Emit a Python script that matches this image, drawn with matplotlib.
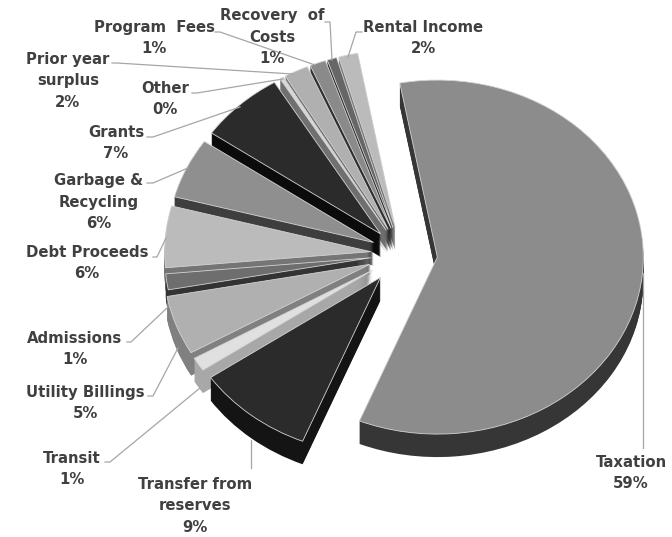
import matplotlib
matplotlib.use('Agg')
from matplotlib import pyplot as plt

names = ['Taxation', 'Transfer from\nreserves', 'Transit', 'Utility Billings', 'Admissions',
         'Debt Proceeds', 'Garbage &\nRecycling', 'Grants', 'Other', 'Prior year\nsurplus',
         'Program  Fees', 'Recovery  of\nCosts', 'Rental Income']
values = [59.0, 9.25, 1.25, 5.4, 1.45, 5.6, 5.5, 6.7, 0.3, 1.9, 1.25, 0.75, 1.5]
pct_text = ['59%', '9%', '1%', '5%', '1%', '6%', '6%', '7%', '0%', '2%', '1%', '1%', '2%']

top_cols = ['#8c8c8c', '#2b2b2b', '#e0e0e0', '#b0b0b0', '#6e6e6e', '#bbbbbb', '#8f8f8f',
            '#2b2b2b', '#d8d8d8', '#b0b0b0', '#8a8a8a', '#666666', '#bbbbbb']
side_cols = ['#363636', '#141414', '#a8a8a8', '#808080', '#333333', '#757575', '#3e3e3e',
             '#0b0b0b', '#707070', '#6e6e6e', '#303030', '#2a2a2a', '#7a7a7a']

# label centres in pixels
label_x = [631, 195, 72, 85, 75, 87, 99, 116, 165, 68, 154, 272, 423]
label_y = [473, 506, 469, 403, 349, 263, 202, 143, 99, 81, 38, 37, 38]

# leader lines, pixels
leaders = [
    [(643, 273), (643, 448)],
    [(251, 440), (251, 468)],
    [(105, 462), (110, 462), (200, 388)],
    [(148, 396), (153, 396), (178, 348)],
    [(127, 342), (131, 342), (168, 307)],
    [(153, 257), (157, 257), (166, 238)],
    [(147, 183), (153, 183), (188, 168)],
    [(147, 137), (153, 137), (240, 107)],
    [(192, 93), (197, 93), (283, 79)],
    [(112, 63), (117, 63), (293, 74)],
    [(215, 32), (220, 32), (315, 65)],
    [(325, 22), (330, 22), (332, 60)],
    [(362, 32), (356, 32), (348, 57)],
]

W, H = 672, 537
cx, cy = 402.5, 254      # pie centre, px
rx, ry = 206.0, 177.0    # px per unit of radius
depth = 23               # px
start = 100.5
# far slices sit a little closer in, the original has some perspective
expl = [0.17, 0.17, 0.17, 0.17, 0.155, 0.155, 0.155, 0.155, 0.155, 0.155, 0.155, 0.155, 0.155]

fig = plt.figure(figsize=(W / 100, H / 100), dpi=100)
ax = fig.add_axes([0, 0, 1, 1])

# side wall: a stack of pies, deepest first
for d in range(depth, 0, -1):
    ax.pie(values, explode=expl, colors=side_cols, startangle=start, counterclock=False,
           center=(0, -d / ry), radius=1,
           wedgeprops=dict(linewidth=0.4, edgecolor='none'))
ax.pie(values, explode=expl, colors=top_cols, startangle=start, counterclock=False,
       center=(0, 0), radius=1,
       wedgeprops=dict(linewidth=0.6, edgecolor='#d4d4d4'))

ax.set_aspect('auto')
ax.set_xlim(-cx / rx, (W - cx) / rx)
ax.set_ylim((cy - H) / ry, cy / ry)
ax.axis('off')

# overlay in pixel coordinates for labels
ov = fig.add_axes([0, 0, 1, 1])
ov.set_xlim(0, W)
ov.set_ylim(H, 0)
ov.axis('off')
ov.patch.set_alpha(0)

for pts in leaders:
    ov.plot([p[0] for p in pts], [p[1] for p in pts], color='#a6a6a6', lw=0.9)

for i in range(len(names)):
    ov.text(label_x[i], label_y[i], names[i] + '\n' + pct_text[i], ha='center', va='center',
            fontsize=10.7, fontweight='bold', color='#404040', family='DejaVu Sans',
            linespacing=1.56)

fig.savefig('out.png', dpi=100)
